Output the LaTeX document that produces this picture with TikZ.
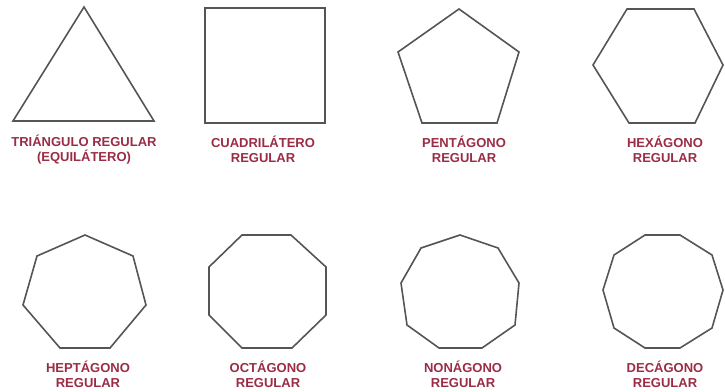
\documentclass[tikz,border=0pt]{standalone}
\usepackage{fontspec}
\setmainfont{Liberation Sans}
\definecolor{lbl}{HTML}{9B2C45}
\definecolor{edge}{HTML}{555555}
\begin{document}
\begin{tikzpicture}[x=1pt,y=-1pt,
  poly/.style={draw=edge,line width=1.6pt,line join=miter},
  lab/.style={text=lbl,align=center,inner sep=0pt,font=\fontsize{13}{15}\selectfont\bfseries}]
\useasboundingbox (0,0) rectangle (725,391);
% row 1
\draw[poly] (84,7) -- (154,121) -- (13,121) -- cycle;
\draw[poly] (205,8) rectangle (325,123);
\draw[poly] (459,9) -- (519,52) -- (497,123) -- (422,123) -- (398,52) -- cycle;
\draw[poly] (627,9) -- (694,9) -- (723,65) -- (695,123) -- (629,123) -- (593,65) -- cycle;
% row 2
\draw[poly] (85,235) -- (133,256) -- (146,305) -- (110,348) -- (60,348) -- (23,305) -- (37,256) -- cycle;
\draw[poly] (242,235) -- (291,235) -- (326,267) -- (326,315) -- (292,348) -- (242,348) -- (209,315) -- (209,267) -- cycle;
\draw[poly] (460,235) -- (498,248) -- (519,283) -- (515,325) -- (482,348) -- (439,348) -- (407,325) -- (401,283) -- (421,248) -- cycle;
\draw[poly] (645,235) -- (680,235) -- (712,255) -- (723,290) -- (712,328) -- (680,348) -- (645,348) -- (614,328) -- (603,290) -- (614,255) -- cycle;
% labels
\node[lab] (l1) at (84,149.5) {TRIÁNGULO REGULAR\\(EQUILÁTERO)};
\node[lab] (l2) at (263,149.5) {CUADRILÁTERO\\REGULAR};
\node[lab] (l3) at (464,149.5) {PENTÁGONO\\REGULAR};
\node[lab] (l4) at (665,149.5) {HEXÁGONO\\REGULAR};
\node[lab] (l5) at (88,374.5) {HEPTÁGONO\\REGULAR};
\node[lab] (l6) at (268,374.5) {OCTÁGONO\\REGULAR};
\node[lab] (l7) at (463,374.5) {NONÁGONO\\REGULAR};
\node[lab] (l8) at (665,374.5) {DECÁGONO\\REGULAR};
\end{tikzpicture}
\end{document}
